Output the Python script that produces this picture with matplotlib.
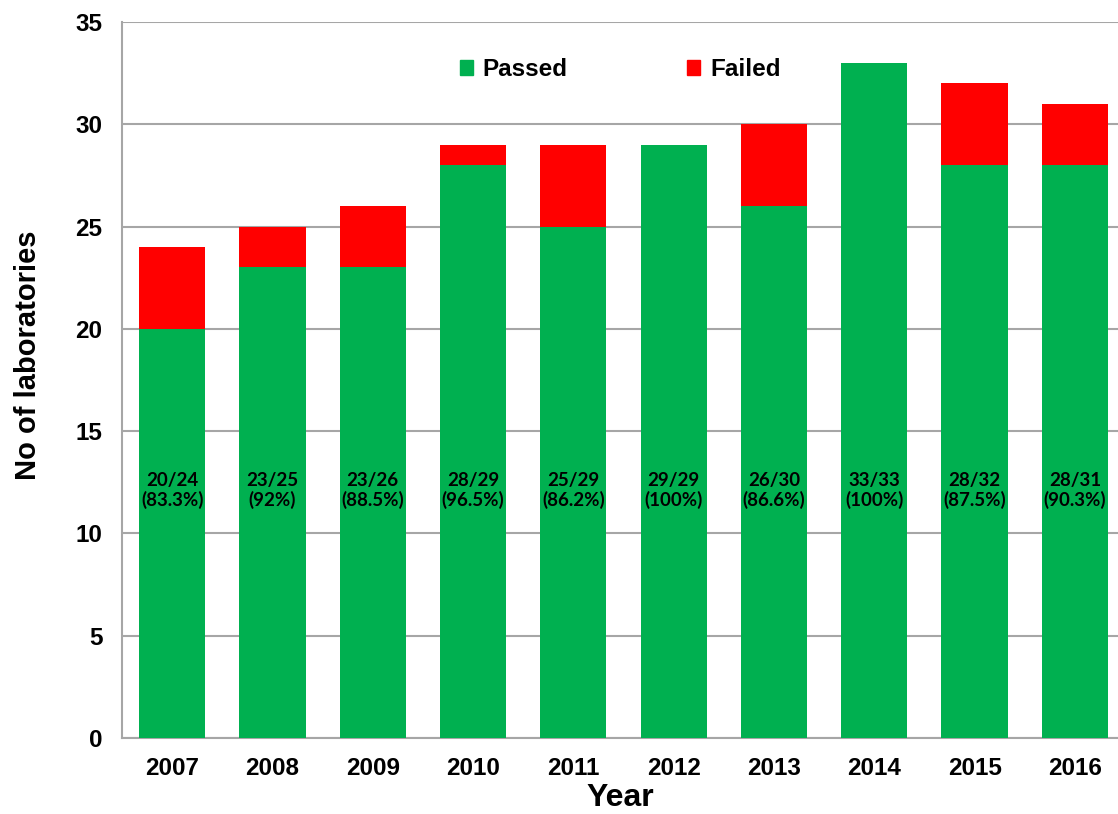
import matplotlib
matplotlib.use("Agg")
from matplotlib import pyplot as plt
from matplotlib.patches import Patch

years = ["2007", "2008", "2009", "2010", "2011", "2012", "2013", "2014", "2015", "2016"]
passed = [20, 23, 23, 28, 25, 29, 26, 33, 28, 28]
failed = [4, 2, 3, 1, 4, 0, 4, 0, 4, 3]
bar_labels = ["20/24\n(83.3%)", "23/25\n(92%)", "23/26\n(88.5%)", "28/29\n(96.5%)",
              "25/29\n(86.2%)", "29/29\n(100%)", "26/30\n(86.6%)", "33/33\n(100%)",
              "28/32\n(87.5%)", "28/31\n(90.3%)"]

green = "#00B050"
red = "#FF0000"
grid_col = "#A6A6A6"

plt.rcParams['font.family'] = ['Liberation Sans', 'DejaVu Sans']

fig = plt.figure(figsize=(11.18, 8.14), dpi=100)
ax = fig.add_axes([122 / 1118, 76 / 814, 996 / 1118, 716 / 814])

x = list(range(len(years)))
ax.bar(x, passed, width=0.66, color=green, zorder=3)
ax.bar(x, failed, width=0.66, bottom=passed, color=red, zorder=3)

for xi, lab in zip(x, bar_labels):
    ax.text(xi, 12.1, lab, ha='center', va='center', fontsize=13.5,
            fontweight='bold', family=['Lato', 'DejaVu Sans'], zorder=4,
            linespacing=1.15)

ax.set_ylim(0, 35)
ax.set_xlim(-0.5, 9.43)
ax.set_yticks(range(0, 36, 5))
ax.set_xticks(x)
ax.set_xticklabels(years)
ax.yaxis.grid(True, color=grid_col, linewidth=1.5, zorder=0)
ax.tick_params(axis='both', length=0, labelsize=17.5)
ax.tick_params(axis='x', pad=14)
ax.tick_params(axis='y', pad=14)
for lbl in ax.get_xticklabels() + ax.get_yticklabels():
    lbl.set_fontweight('bold')

for s in ['top', 'right']:
    ax.spines[s].set_visible(False)
for s in ['left', 'bottom']:
    ax.spines[s].set_color(grid_col)
    ax.spines[s].set_linewidth(1.5)

ax.set_xlabel("Year", fontsize=23, fontweight='bold', labelpad=2)
ax.set_ylabel("No of laboratories", fontsize=21, fontweight='bold')
ax.yaxis.set_label_coords(-0.08, 0.535)

handles = [Patch(color=green, label="Passed"), Patch(color=red, label="Failed")]
ax.legend(handles=handles, loc='upper center', bbox_to_anchor=(0.5, 0.98), ncol=2,
          frameon=False, prop={'size': 17.5, 'weight': 'bold'},
          handlelength=0.55, handleheight=0.55, handletextpad=0.4, columnspacing=4.9)

fig.savefig("out.png", dpi=100)
